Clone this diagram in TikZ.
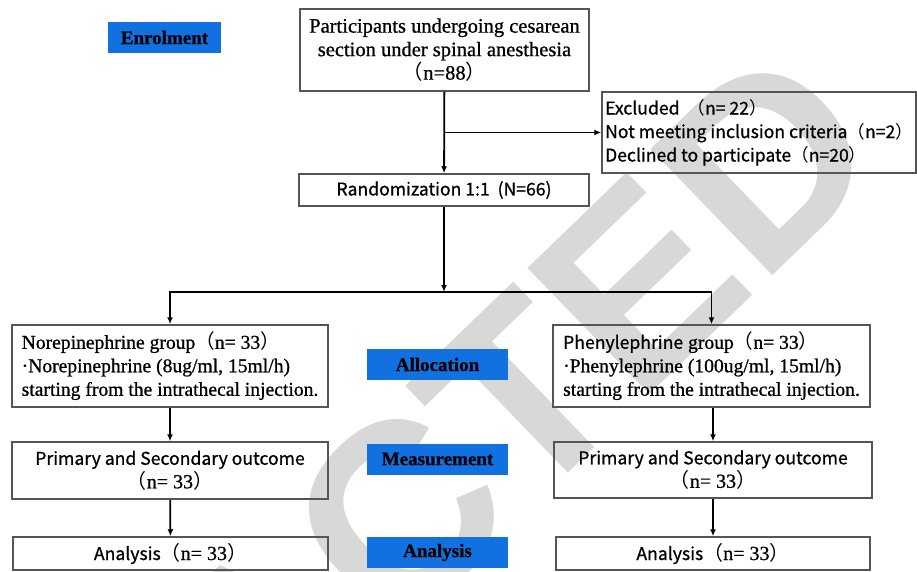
\documentclass[tikz,border=0pt]{standalone}
\usepackage{fontspec}
\setmainfont{Liberation Serif}[FakeBold=0.8]
\newfontfamily\cjk{Noto Sans CJK SC}[FakeBold=0.8]
\newfontfamily\cjkp{Noto Sans CJK SC}
\newfontfamily\wmfont{Liberation Sans}
\usetikzlibrary{arrows.meta}
\pgfdeclarelayer{background}
\pgfsetlayers{background,main}
\definecolor{lblblue}{HTML}{1271E0}
\definecolor{wmgray}{HTML}{D8D8D8}
\definecolor{boxgray}{HTML}{555555}
\newcommand{\LP}{{\cjkp （}}
\newcommand{\RP}{{\cjkp ）}}
\begin{document}
\begin{tikzpicture}[x=1pt,y=-1pt,
  box/.style={draw=boxgray, line width=1.5pt, inner sep=0pt},
  serbox/.style={box, font=\fontsize{19.6}{23.5}\selectfont},
  sanbox/.style={box, font=\cjk\fontsize{17.6}{23.5}\selectfont},
  lbl/.style={fill=lblblue, inner sep=0pt, minimum width=141pt, minimum height=31pt,
    font=\bfseries\fontsize{19}{22}\selectfont},
  arr/.style={line width=1.8pt, -{Latex[length=7pt,width=6pt]}}]
\useasboundingbox (0,0) rectangle (917,571);
\begin{pgfonlayer}{background}
  \fill[white] (0,0) rectangle (917,571);
  \clip (0,0) rectangle (917,571);
  \node[rotate=44, text=wmgray, inner sep=0pt,
    font=\wmfont\bfseries\fontsize{255}{255}\selectfont] (wm) at (266,643) {RETRACTED};
\end{pgfonlayer}

% stage labels
\node[lbl, minimum width=113pt] (enrol) at (164.5,37.5) {Enrolment};
\node[lbl] (alloc) at (437.5,364.5) {Allocation};
\node[lbl] (meas) at (437.5,459) {Measurement};
\node[lbl] (anal) at (437.5,552.5) {Analysis};

% top
\node[serbox, font=\fontsize{20.5}{23.5}\selectfont, minimum width=289pt, minimum height=82pt, align=center] (top) at (444.5,50)
  {Participants undergoing cesarean\\section under spinal anesthesia\\\LP n=88\RP};
\node[sanbox, minimum width=314pt, minimum height=81pt, align=left] (excl) at (759,132.5)
  {Excluded\ \ \LP n= 22\RP\\Not meeting inclusion criteria\LP n=2\RP\\Declined to participate\LP n=20\RP};
\node[sanbox, minimum width=290pt, minimum height=32pt] (rand) at (444,190)
  {Randomization 1:1\ \ (N=66)};

% left arm
\node[serbox, minimum width=316pt, minimum height=82pt, align=left] (g1) at (170,366)
  {Norepinephrine group\LP n= 33\RP\\{\textperiodcentered}Norepinephrine (8ug/ml, 15ml/h)\\starting from the intrathecal injection.};
\node[sanbox, minimum width=316pt, minimum height=57pt, align=center] (o1) at (170,470.5)
  {Primary and Secondary outcome\\{\rmfamily\fontsize{20}{23}\selectfont\LP n= 33\RP}};
\node[sanbox, minimum width=315pt, minimum height=33pt] (a1) at (170.5,553.5)
  {Analysis{\rmfamily\fontsize{20}{23}\selectfont\LP n= 33\RP}};

% right arm
\node[serbox, minimum width=317pt, minimum height=82pt, align=left] (g2) at (711.5,366)
  {{\cjk\fontsize{17.6}{23.5}\selectfont Phenylephrine} group\LP n= 33\RP\\{\textperiodcentered}Phenylephrine (100ug/ml, 15ml/h)\\starting from the intrathecal injection.};
\node[sanbox, minimum width=318pt, minimum height=56pt, align=center] (o2) at (713,470)
  {Primary and Secondary outcome\\{\rmfamily\fontsize{20}{23}\selectfont\LP n= 33\RP}};
\node[sanbox, minimum width=314pt, minimum height=33pt] (a2) at (713,553.5)
  {Analysis{\rmfamily\fontsize{20}{23}\selectfont\LP n= 33\RP}};

% connectors
\draw[arr] (top) -- (rand);
\coordinate (br) at (top.south |- excl.west);
\draw[arr] (br) -- (excl.west);
\coordinate (split) at (444,292);
\draw[arr] (rand) -- (split);
\draw[arr] (split) -| (g1);
\draw[arr] (split) -| (g2);
\draw[arr] (g1) -- (o1);
\draw[arr] (o1) -- (a1);
\draw[arr] (g2.south -| o2.north) -- (o2);
\draw[arr] (o2) -- (a2);
\end{tikzpicture}
\end{document}
